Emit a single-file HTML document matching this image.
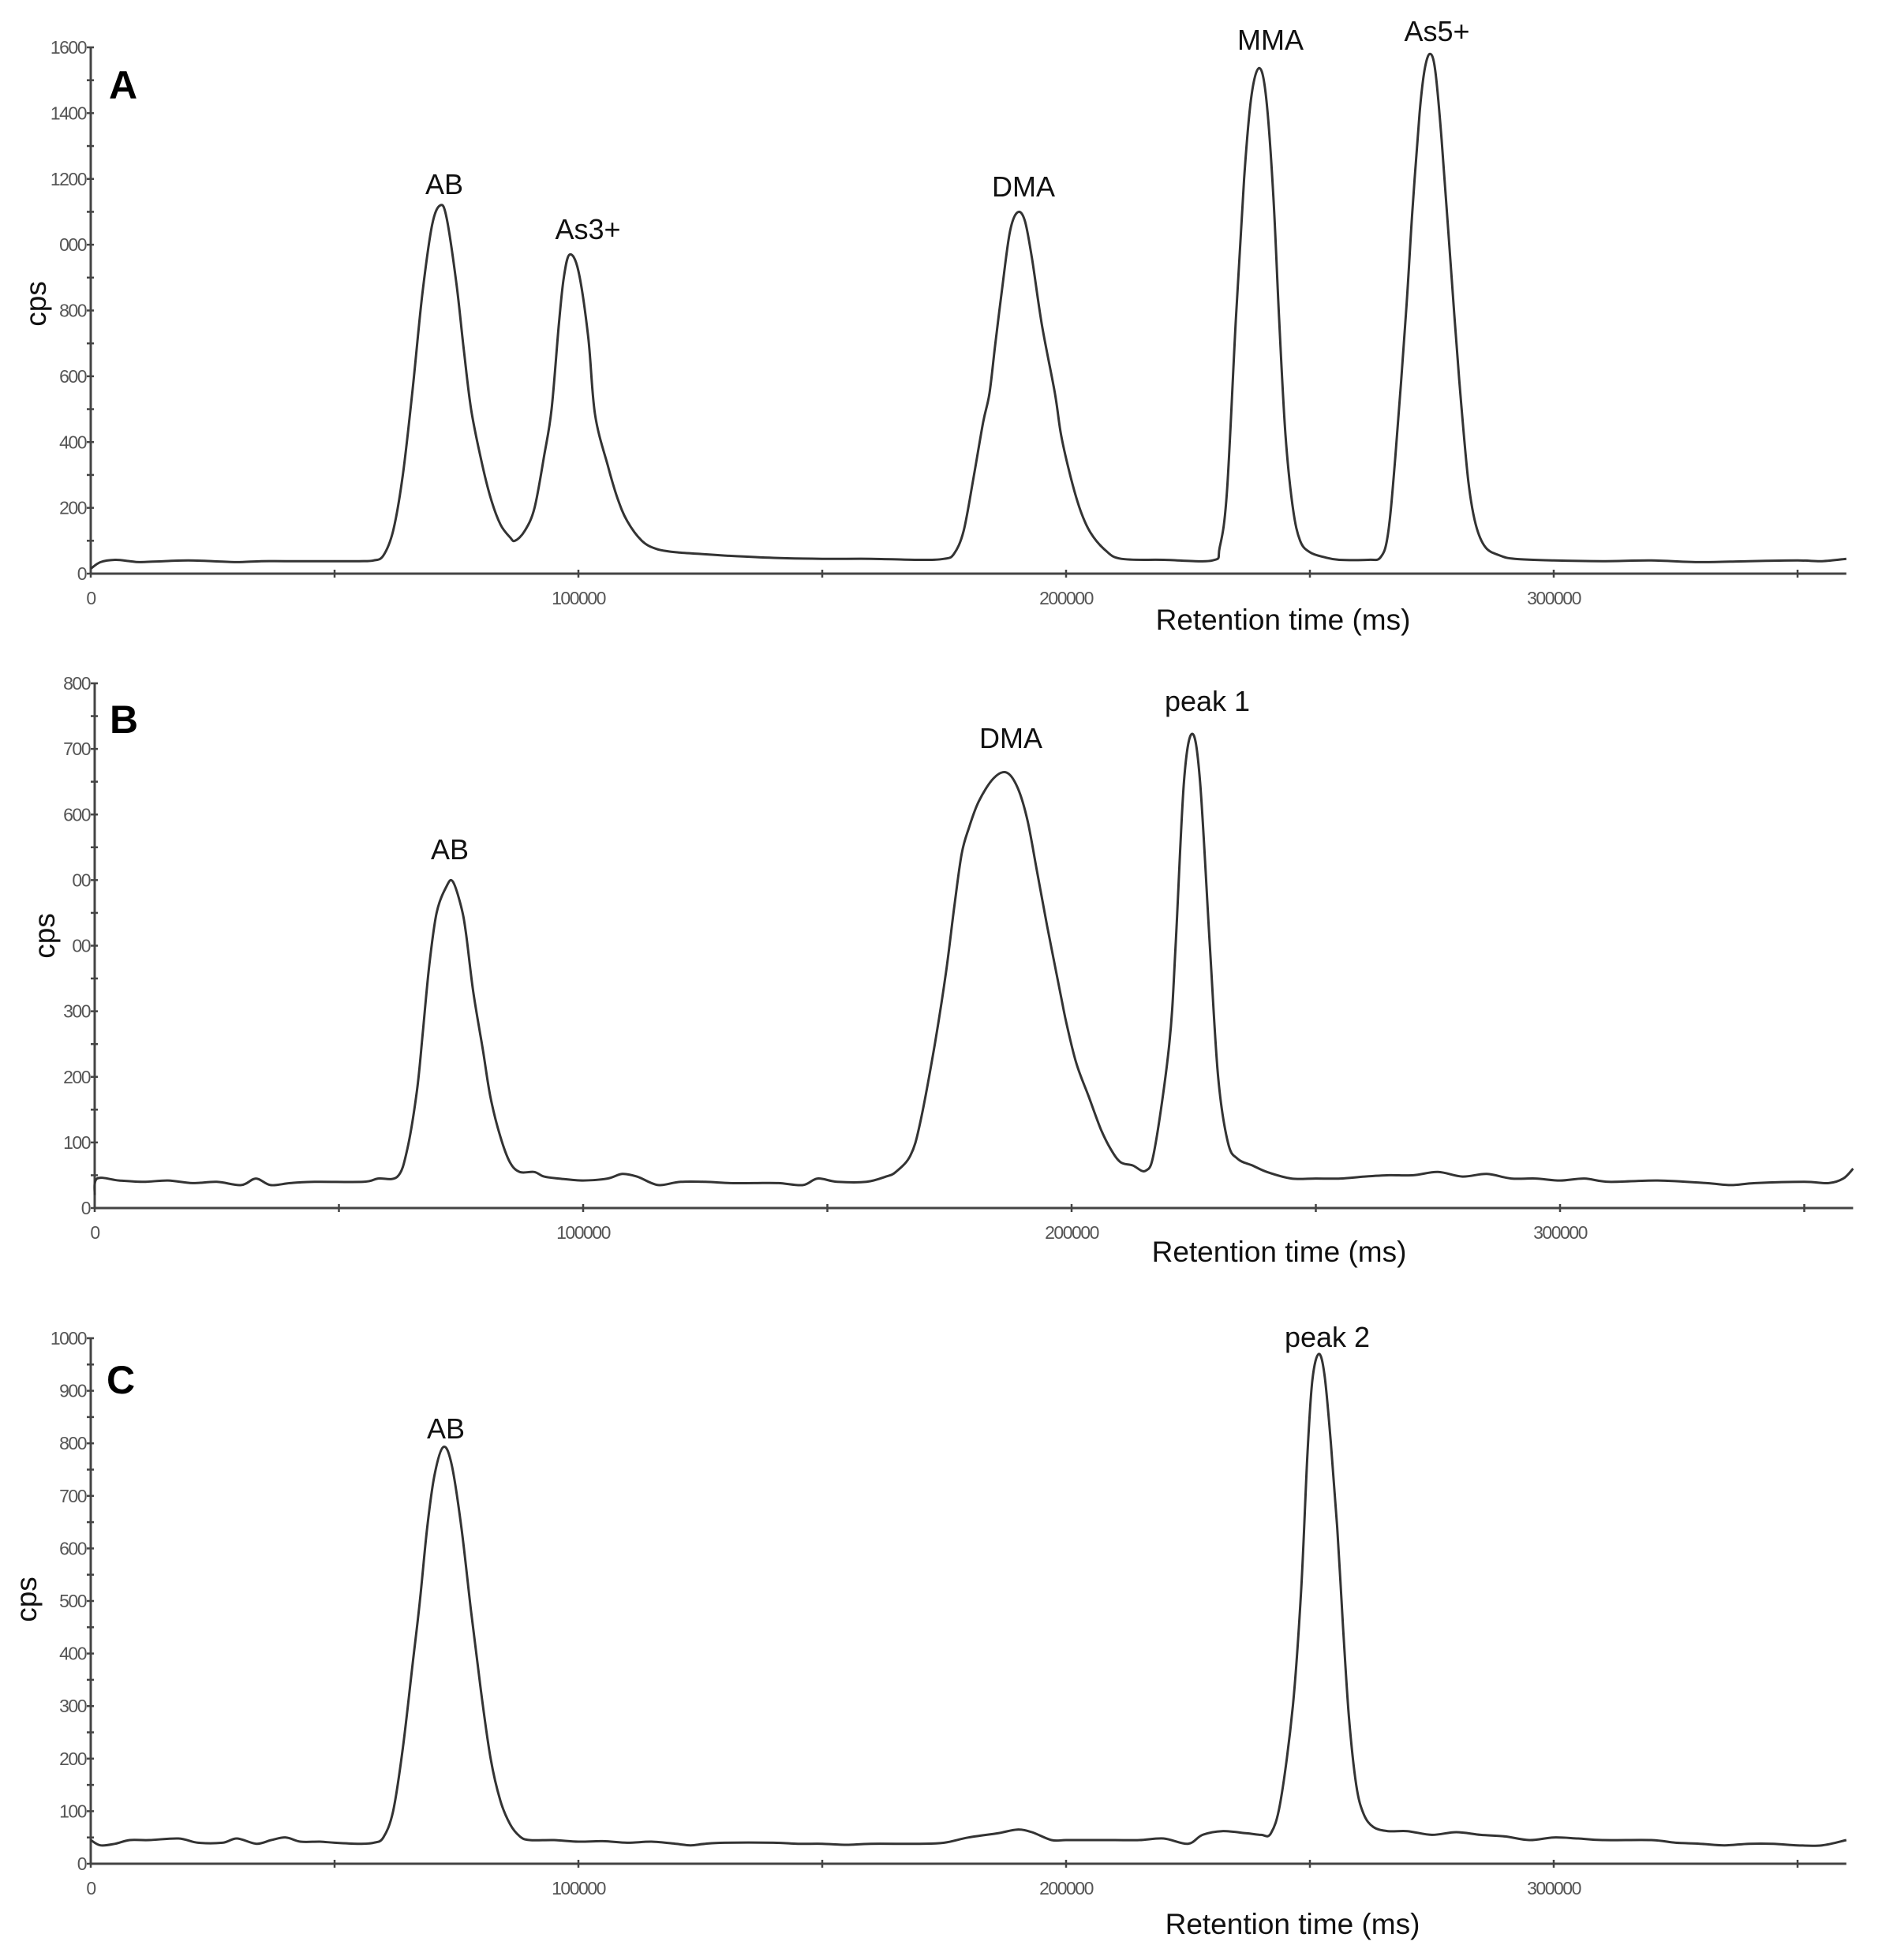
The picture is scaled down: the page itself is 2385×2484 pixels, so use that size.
<!DOCTYPE html>
<html><head><meta charset="utf-8"><style>
html,body{margin:0;padding:0;background:#fff;}
svg{display:block;}
.tk{font-family:"Liberation Sans",sans-serif;font-size:23px;fill:#555;letter-spacing:-1.5px;}
.pk{font-family:"Liberation Sans",sans-serif;font-size:36px;fill:#111;}
.pl{font-family:"Liberation Sans",sans-serif;font-size:50px;font-weight:bold;fill:#000;}
.ax{font-family:"Liberation Sans",sans-serif;font-size:37px;fill:#111;}
</style></head><body>
<svg id="chart" width="2385" height="2484" viewBox="0 0 2385 2484" xmlns="http://www.w3.org/2000/svg"></svg>
<script>
// Panel A data (time in ms, counts per second)
const timesA=[0,2000,5000,8000,10000,15000,20000,25000,30000,35000,40000,50000,55000,58000,60000,62000,64000,66000,68000,70000,71700,73000,75000,76500,78000,80000,82000,84000,86000,87000,89000,91000,93000,94500,96000,97000,98200,100000,102000,103400,106000,108000,110000,113000,116000,120000,125000,130000,140000,150000,160000,170000,175000,177000,179000,181000,183000,184300,185500,187000,188500,190000,191500,193000,195000,197700,199000,201000,203000,205000,208000,211300,220000,230000,231500,233000,234800,236500,238000,239600,241000,242500,243700,245000,246500,248000,250000,253000,256000,262000,264500,266000,267500,269700,271000,272500,273500,274600,275700,277000,279600,281000,282500,284000,286000,289000,292000,300000,310000,320000,330000,340000,350000,355000,360000];
const countsA=[15,35,42,38,35,38,40,38,35,38,38,38,38,40,55,130,300,560,850,1060,1120,1080,880,680,500,350,230,150,110,100,130,200,360,500,760,900,970,920,720,485,330,230,160,100,75,65,60,55,48,45,45,42,45,60,130,290,460,549,700,880,1040,1098,1075,960,760,549,420,290,190,125,72,45,42,40,80,250,770,1200,1450,1537,1450,1150,770,420,200,100,65,50,42,42,50,120,350,790,1100,1400,1530,1580,1530,1320,790,520,280,150,80,55,45,40,38,40,35,38,40,38,45];
// Panel B data
const timesB=[0,500,5000,10000,15000,20000,25000,30000,33000,36000,40000,45000,55000,58000,62000,64000,66000,67200,68500,70000,72000,73300,75000,76000,77500,79500,81000,83000,85000,87000,90000,92000,95000,100000,105000,108000,111000,114000,116000,120000,125000,130000,135000,140000,145000,148000,152000,158000,162000,164000,167000,169000,172000,174300,176000,177500,179000,181000,184000,186700,189000,191000,193000,195000,197900,199000,201000,203500,206000,208000,210000,212500,215200,217000,220000,221300,223000,224700,226300,228300,230000,232000,234000,237000,240000,245000,250000,255000,260000,265000,270000,275000,280000,285000,290000,295000,300000,305000,310000,320000,330000,335000,340000,350000,355000,358000,360000];
const countsB=[20,45,42,40,42,38,40,35,45,35,38,40,40,45,48,90,180,270,370,450,490,498,460,420,330,240,170,110,70,55,55,48,45,42,45,52,48,38,35,40,40,38,38,38,35,45,40,40,48,55,80,130,250,360,460,540,580,620,655,664,640,590,510,430,320,280,220,170,120,90,70,65,57,90,250,400,650,723,650,400,200,100,75,65,55,45,45,45,48,50,50,55,48,52,45,45,42,45,40,42,38,35,38,40,38,45,60];
// Panel C data
const timesC=[0,2000,5000,8000,12000,18000,22000,27000,30000,34000,37000,40000,43000,47000,50000,55000,58000,60000,62000,64000,66000,67500,69000,70500,72300,74000,76000,78000,80000,82000,84000,86000,88000,90000,95000,100000,105000,110000,115000,120000,123000,126000,130000,140000,145000,150000,155000,160000,170000,175000,180000,186000,190000,193000,197000,200000,205000,210000,215000,220000,225000,228000,232000,237000,240000,242000,244000,246500,248200,249500,250500,251800,253000,254300,255600,256800,258000,259500,261000,263000,266000,270000,275000,280000,285000,290000,295000,300000,305000,310000,320000,325000,330000,335000,340000,345000,350000,355000,360000];
const countsC=[45,35,38,45,45,48,40,40,48,38,45,50,42,42,40,38,40,50,100,220,380,500,640,740,793,760,640,480,330,200,120,75,52,45,45,42,43,40,42,38,35,38,40,40,38,38,36,38,38,40,50,58,65,60,45,45,45,45,45,48,38,55,62,58,55,58,120,300,520,780,920,970,930,800,640,450,280,150,95,70,62,62,55,60,55,52,45,50,48,45,45,40,38,35,38,38,35,35,45];
// Axis tick labels
const yTicksA=[0,200,400,600,800,1000,1200,1400,1600];
const yTickTextA=["0","200","400","600","800","000","1200","1400","1600"];
const yTicksB=[0,100,200,300,400,500,600,700,800];
const yTickTextB=["0","100","200","300","00","00","600","700","800"];
const yTicksC=[0,100,200,300,400,500,600,700,800,900,1000];
const yTickTextC=["0","100","200","300","400","500","600","700","800","900","1000"];
const xTicks=[0,100000,200000,300000];
const xTickText=["0","100000","200000","300000"];
// Peak labels
const peakNamesA=["AB","As3+","DMA","MMA","As5+"];
const peakTimesA=[71700,98200,190000,239600,274600];
const peakNamesB=["AB","DMA","peak 1"];
const peakTimesB=[73300,186700,224700];
const peakNamesC=["AB","peak 2"];
const peakTimesC=[72300,251800];

const NS="http://www.w3.org/2000/svg";
const svg=document.getElementById('chart');
function mk(tag,attrs,parent){const e=document.createElementNS(NS,tag);for(const k in attrs)e.setAttribute(k,attrs[k]);(parent||svg).appendChild(e);return e;}

const panels=[
 {id:'a',letter:'A',x0:115,ppm:618/100000,yz:727,ytop:60,ymax:1600,ystep:100,times:timesA,counts:countsA,yt:yTicksA,ytt:yTickTextA,names:peakNamesA,pt:peakTimesA,
  labelPos:[[563,246],[745,303],[1297,249],[1610,63],[1821,52]],letterPos:[156,125],cps:[46,385],title:[1626,798]},
 {id:'b',letter:'B',x0:120,ppm:619/100000,yz:1531,ytop:866,ymax:800,ystep:50,times:timesB,counts:countsB,yt:yTicksB,ytt:yTickTextB,names:peakNamesB,pt:peakTimesB,
  labelPos:[[570,1089],[1281,948],[1530,901]],letterPos:[157,929],cps:[57,1186],title:[1621,1599]},
 {id:'c',letter:'C',x0:115,ppm:618/100000,yz:2362,ytop:1696,ymax:1000,ystep:50,times:timesC,counts:countsC,yt:yTicksC,ytt:yTickTextC,names:peakNamesC,pt:peakTimesC,
  labelPos:[[565,1823],[1682,1707]],letterPos:[153,1766],cps:[34,2027],title:[1638,2451]}
];

panels.forEach(p=>{
 const g=mk('g',{});
 
 
 const X=t=>p.x0+t*p.ppm;
 const Y=v=>p.yz-(v/p.ymax)*(p.yz-p.ytop);
 const xEnd=X(360000);
 const ya=mk('line',{x1:p.x0,y1:p.ytop,x2:p.x0,y2:p.yz,stroke:'#444','stroke-width':3},g);
 
 
 const xa=mk('line',{x1:p.x0,y1:p.yz,x2:xEnd,y2:p.yz,stroke:'#444','stroke-width':3},g);
 
 
 for(let v=0;v<=p.ymax;v+=p.ystep){mk('line',{x1:p.x0-5,y1:Y(v),x2:p.x0+4,y2:Y(v),stroke:'#444','stroke-width':2.5},g);}
 for(let t=0;t<=360000;t+=50000){mk('line',{x1:X(t),y1:p.yz-5,x2:X(t),y2:p.yz+5,stroke:'#444','stroke-width':2.5},g);}
 p.yt.forEach((v,i)=>{const tx=mk('text',{x:p.x0-6,y:Y(v)+8,'text-anchor':'end',class:'tk'},g);tx.textContent=p.ytt[i];
  
  });
 xTicks.forEach((t,i)=>{const tx=mk('text',{x:X(t),y:p.yz+39,'text-anchor':'middle',class:'tk'},g);tx.textContent=xTickText[i];
  
  });
 const pts=p.times.map((t,i)=>[X(t),Y(p.counts[i])]);
 let d='M'+pts[0][0].toFixed(1)+','+pts[0][1].toFixed(1);
 for(let i=0;i<pts.length-1;i++){
  const p0=pts[Math.max(0,i-1)],p1=pts[i],p2=pts[i+1],p3=pts[Math.min(pts.length-1,i+2)];
  const c1=[p1[0]+(p2[0]-p0[0])/6,p1[1]+(p2[1]-p0[1])/6],c2=[p2[0]-(p3[0]-p1[0])/6,p2[1]-(p3[1]-p1[1])/6];
  d+=' C'+c1[0].toFixed(1)+','+c1[1].toFixed(1)+' '+c2[0].toFixed(1)+','+c2[1].toFixed(1)+' '+p2[0].toFixed(1)+','+p2[1].toFixed(1);
 }
 const path=mk('path',{d:d,fill:'none',stroke:'#333','stroke-width':3,'stroke-linejoin':'round'},g);
 
 
 p.names.forEach((n,i)=>{const tx=mk('text',{x:p.labelPos[i][0],y:p.labelPos[i][1],'text-anchor':'middle',class:'pk'},g);tx.textContent=n;
  
  });
 const L=mk('text',{x:p.letterPos[0],y:p.letterPos[1],'text-anchor':'middle',class:'pl'},g);L.textContent=p.letter;
 
 
 const c=mk('text',{x:p.cps[0],y:p.cps[1],'text-anchor':'middle',class:'ax',transform:'rotate(-90 '+p.cps[0]+' '+p.cps[1]+')',dy:'12'},g);c.textContent='cps';
 
 
 const tt=mk('text',{x:p.title[0],y:p.title[1],'text-anchor':'middle',class:'ax'},g);tt.textContent='Retention time (ms)';
 
 
});
</script>
</body></html>
